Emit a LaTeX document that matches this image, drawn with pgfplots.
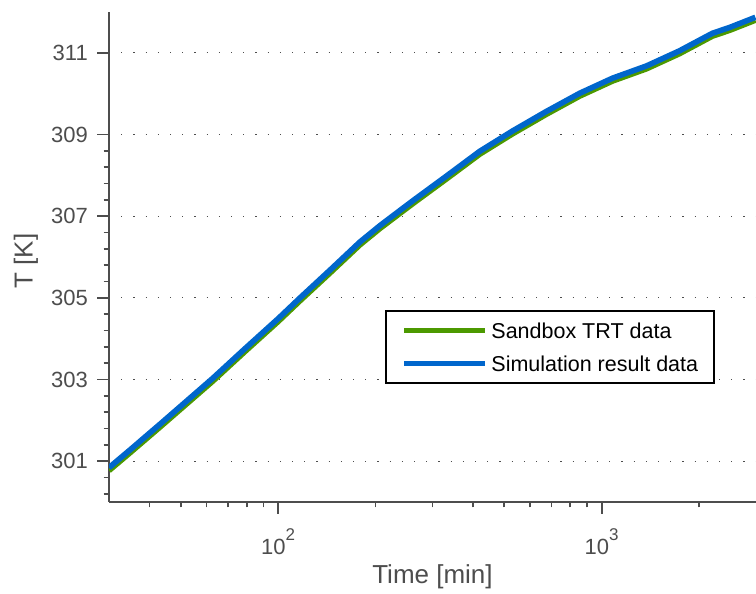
\documentclass[border=0pt]{standalone}
\usepackage{fontspec}
\setmainfont{Liberation Sans}
\usepackage{pgfplots}
\usepackage{pgfplotstable}
\pgfplotsset{compat=1.18}

\definecolor{axisgray}{HTML}{4D4D4D}
\definecolor{trtgreen}{HTML}{4C9900}
\definecolor{simblue}{HTML}{0066CC}

% Measured borehole fluid temperature (thermal response test)
\pgfplotstableread{
t      T
30.0   300.77
34.9   301.21
43.2   301.84
53.5   302.48
62.6   302.95
79.1   303.69
100    304.42
116.9  304.93
144.7  305.61
179.1  306.30
206.5  306.70
238.0  307.07
261.1  307.31
332.4  307.92
420.2  308.52
531.3  309.02
676.5  309.50
855.2  309.94
1081   310.31
1377   310.61
1741   310.98
2201   311.41
2484   311.55
2987   311.80
}\trtdata

% Simulated fluid temperature
\pgfplotstableread{
t      T
30.0   300.84
34.9   301.28
43.2   301.91
53.5   302.55
62.6   303.02
79.1   303.76
100    304.49
116.9  305.00
144.7  305.68
179.1  306.37
206.5  306.77
238.0  307.14
261.1  307.38
332.4  307.99
420.2  308.59
531.3  309.09
676.5  309.57
855.2  310.01
1081   310.38
1377   310.68
1741   311.05
2201   311.48
2484   311.62
2987   311.87
}\simdata

\begin{document}
\begin{tikzpicture}
\begin{axis}[
  scale only axis,
  width=647pt, height=490pt,
  xmode=log,
  xmin=30, xmax=3000,
  ymin=300, ymax=312,
  axis lines=left,
  axis line style={-, line width=1.7pt, draw=axisgray},
  tick align=outside,
  major tick length=12pt,
  minor tick length=5.5pt,
  tick style={line width=1.7pt, draw=axisgray},
  xtick={100,1000},
  xticklabels={10\raisebox{14pt}{\fontsize{17}{17}\selectfont 2},
               10\raisebox{14pt}{\fontsize{17}{17}\selectfont 3}},
  minor xtick={40,50,60,70,80,90,200,300,400,500,600,700,800,900,2000},
  ytick={301,303,305,307,309,311},
  yticklabels={301,303,305,307,309,311},
  minor ytick={300.2,300.6,301.4,301.8,302.2,302.6,303.4,303.8,304.2,304.6,
               305.4,305.8,306.2,306.6,307.4,307.8,308.2,308.6},
  ymajorgrids,
  major grid style={draw=axisgray, line width=1.2pt, dash pattern=on 1.2pt off 11pt},
  ticklabel style={font=\fontsize{22}{26}\selectfont, text=axisgray},
  xticklabel style={anchor=base, yshift=-40.5pt},
  yticklabel style={anchor=east, inner sep=0pt, xshift=-9pt},
  label style={font=\fontsize{26}{30}\selectfont, text=axisgray},
  xlabel={Time [min]},
  ylabel={T [K]},
  xlabel style={at={(axis description cs:0.5,0)}, anchor=base, yshift=-82pt},
  ylabel style={at={(axis description cs:-0.1283,0.492)}, anchor=center},
  legend style={
    at={(rel axis cs:0.4266,0.392)}, anchor=north west,
    draw=black, line width=1.8pt, fill=white,
    font=\fontsize{21.5}{25}\selectfont,
    inner xsep=16pt, inner ysep=12pt,
    nodes={inner sep=0pt, text height=16pt, text depth=0pt},
    row sep=16.3pt,
    /tikz/every odd column/.append style={column sep=3.7pt},
  },
  legend cell align=left,
  legend image code/.code={\draw[#1, line width=4.8pt] (0pt,0pt) -- (81pt,0pt);},
]
\addplot[trtgreen, line width=5.6pt] table[x=t, y=T] {\trtdata};
\addlegendentry{Sandbox TRT data}
\addplot[simblue, line width=5.6pt] table[x=t, y=T] {\simdata};
\addlegendentry{Simulation result data}
\end{axis}
\pgfresetboundingbox
\useasboundingbox (-109pt,-92pt) rectangle (647pt,502pt);
\end{tikzpicture}
\end{document}
